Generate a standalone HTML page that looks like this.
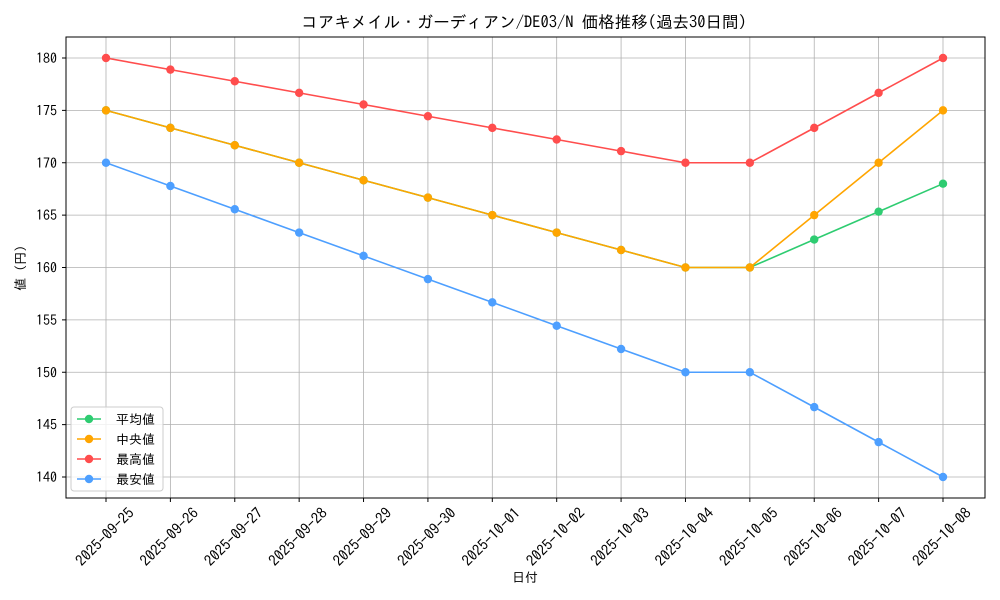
<!DOCTYPE html>
<html><head><meta charset="utf-8"><style>
body{margin:0;background:#fff}
svg{display:block;font-family:"IPAGothic","Liberation Sans","Noto Sans CJK JP",sans-serif}
</style></head><body>
<svg width="1000" height="600" xmlns="http://www.w3.org/2000/svg">
<rect width="1000" height="600" fill="#fff"/>
<text x="524" y="28" font-size="16.5" text-anchor="middle" fill="#000">コアキメイル・ガーディアン/DE03/N 価格推移(過去30日間)</text>
<g id="grid" stroke="#b0b0b0" stroke-width="0.8"></g>
<rect x="66" y="37" width="919" height="461" fill="none" stroke="#000" stroke-width="1"/>
<g id="ticks" font-size="14" fill="#000"></g>
<text x="525" y="582" font-size="13" text-anchor="middle">日付</text>
<text transform="translate(25,268) rotate(-90)" font-size="13" text-anchor="middle">値 (円)</text>
<g id="series"></g>
<g id="legend"></g>
<script>
var ns="http://www.w3.org/2000/svg";
function el(t,a,p,txt){var e=document.createElementNS(ns,t);for(var k in a)e.setAttribute(k,a[k]);if(txt!=null)e.textContent=txt;document.getElementById(p).appendChild(e);return e;}
function X(i){return 106+i*837/13;}
function Y(v){return 477-(v-140)*10.475;}
var dates=["2025-09-25","2025-09-26","2025-09-27","2025-09-28","2025-09-29","2025-09-30","2025-10-01","2025-10-02","2025-10-03","2025-10-04","2025-10-05","2025-10-06","2025-10-07","2025-10-08"];
for(var i=0;i<14;i++){var x=X(i);el("line",{x1:x,x2:x,y1:37,y2:498},"grid");el("line",{x1:x,x2:x,y1:498,y2:502,stroke:"#000"},"ticks");
el("text",{x:0,y:5,"text-anchor":"middle",transform:"translate("+(x-1)+",537) rotate(-45)","font-size":15},"ticks",dates[i]);}
for(var v=140;v<=180;v+=5){var y=Y(v);el("line",{x1:66,x2:985,y1:y,y2:y},"grid");el("line",{x1:62,x2:66,y1:y,y2:y,stroke:"#000"},"ticks");
el("text",{x:57,y:y+5,"text-anchor":"end"},"ticks",v);}
var S=[
["平均値","#2ecc71",[175,173.33,171.67,170,168.33,166.67,165,163.33,161.67,160,160,162.67,165.33,168]],
["中央値","#ffa500",[175,173.33,171.67,170,168.33,166.67,165,163.33,161.67,160,160,165,170,175]],
["最高値","#ff4d4d",[180,178.89,177.78,176.67,175.56,174.44,173.33,172.22,171.11,170,170,173.33,176.67,180]],
["最安値","#4d9fff",[170,167.78,165.56,163.33,161.11,158.89,156.67,154.44,152.22,150,150,146.67,143.33,140]]];
S.forEach(function(s){var pts=s[2].map(function(v,i){return X(i)+","+Y(v)}).join(" ");
el("polyline",{points:pts,fill:"none",stroke:s[1],"stroke-width":1.6},"series");
s[2].forEach(function(v,i){el("circle",{cx:X(i),cy:Y(v),r:4.2,fill:s[1]},"series");});});
el("rect",{x:71,y:407,width:92,height:84,fill:"#fff","fill-opacity":0.8,stroke:"#ccc",rx:3},"legend");
S.forEach(function(s,k){var y=419+k*20;el("line",{x1:77,x2:101,y1:y,y2:y,stroke:s[1],"stroke-width":1.6},"legend");
el("circle",{cx:89,cy:y,r:4.2,fill:s[1]},"legend");el("text",{x:116,y:y+5,"font-size":13},"legend",s[0]);});
</script>
</svg>
</body></html>
